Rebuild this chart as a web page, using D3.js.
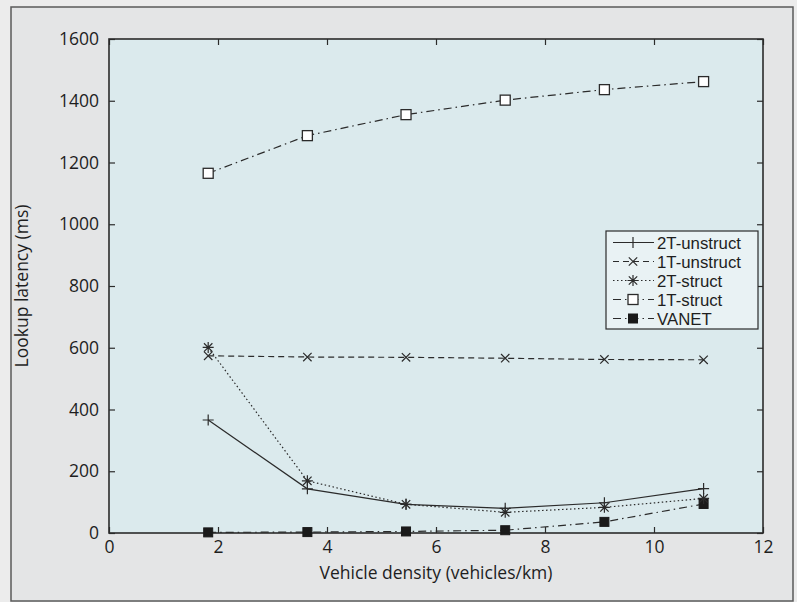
<!DOCTYPE html>
<html><head><meta charset="utf-8">
<script src="https://cdn.jsdelivr.net/npm/d3@7"></script>
<style>
html,body{margin:0;padding:0;background:#ececec;}
svg{display:block;font-family:"Open Sans",sans-serif;}
</style></head>
<body>
<svg id="chart" width="797" height="602"></svg>
<script>
// ---- data ----
const density = [1.82, 3.64, 5.45, 7.27, 9.09, 10.91];
const unstruct2T = [366, 143, 93, 80, 98, 144];
const unstruct1T = [574, 570, 569, 566, 562, 561];
const struct2T = [601, 169, 93, 67, 83, 112];
const struct1T = [1165, 1287, 1355, 1402, 1436, 1462];
const vanet = [2, 3, 5, 9, 36, 94];
const seriesNames = ["2T-unstruct", "1T-unstruct", "2T-struct", "1T-struct", "VANET"];
const xTicks = [0, 2, 4, 6, 8, 10, 12];
const yTicks = [0, 200, 400, 600, 800, 1000, 1200, 1400, 1600];
const xLabel = "Vehicle density (vehicles/km)";
const yLabel = "Lookup latency (ms)";

const series = [
  {name: seriesNames[0], values: unstruct2T, dash: null, marker: "plus"},
  {name: seriesNames[1], values: unstruct1T, dash: "6,4", marker: "x"},
  {name: seriesNames[2], values: struct2T, dash: "1.5,2.5", marker: "star"},
  {name: seriesNames[3], values: struct1T, dash: "8,4,1.5,4", marker: "square"},
  {name: seriesNames[4], values: vanet, dash: "8,4,1.5,4", marker: "filled"}
];

const svg = d3.select("#chart");
const ink = "#2b2b2b";
const txt = "#1e1e1e";

// outer panel
svg.append("rect").attr("x", 11).attr("y", 7).attr("width", 782).attr("height", 594)
  .attr("fill", "#e4e5e6").attr("stroke", "#5a5a5a").attr("stroke-width", 1.5);

const L = 109, R = 763, T = 39, B = 533;
const x = d3.scaleLinear().domain([0, 12]).range([L, R]);
const y = d3.scaleLinear().domain([0, 1600]).range([B, T]);

svg.append("rect").attr("x", L).attr("y", T).attr("width", R - L).attr("height", B - T)
  .attr("fill", "#dbeaed");

// axes
const fs = 17.5;
const fmt = d3.format("d");
const gx = svg.append("g").attr("transform", `translate(0,${B})`)
  .call(d3.axisBottom(x).tickValues(xTicks).tickFormat(fmt).tickSizeInner(-6).tickSizeOuter(0).tickPadding(8));
const gxt = svg.append("g").attr("transform", `translate(0,${T})`)
  .call(d3.axisTop(x).tickValues(xTicks).tickSizeInner(-6).tickSizeOuter(0).tickFormat(""));
const gy = svg.append("g").attr("transform", `translate(${L},0)`)
  .call(d3.axisLeft(y).tickValues(yTicks).tickFormat(fmt).tickSizeInner(-6).tickSizeOuter(0).tickPadding(10));
const gyr = svg.append("g").attr("transform", `translate(${R},0)`)
  .call(d3.axisRight(y).tickValues(yTicks).tickSizeInner(-6).tickSizeOuter(0).tickFormat(""));
[gx, gxt, gy, gyr].forEach(g => {
  g.select(".domain").remove();
  g.selectAll(".tick line").attr("stroke", ink).attr("stroke-width", 1.2);
  g.selectAll(".tick text").attr("fill", txt).attr("font-size", fs).attr("font-family", "'Open Sans',sans-serif");
});
gx.selectAll(".tick text").attr("dy", "0.71em");

// frame
svg.append("rect").attr("x", L).attr("y", T).attr("width", R - L).attr("height", B - T)
  .attr("fill", "none").attr("stroke", ink).attr("stroke-width", 1.6);

// labels
svg.append("text").attr("x", (L + R) / 2).attr("y", 579).attr("text-anchor", "middle")
  .attr("font-size", 17.5).attr("fill", txt).text(xLabel);
svg.append("text").attr("transform", `translate(28,${(T + B) / 2}) rotate(-90)`)
  .attr("text-anchor", "middle").attr("font-size", 17.5).attr("fill", txt).text(yLabel);

// marker drawer
function drawMarker(g, type, cx, cy) {
  const s = 5.5;
  if (type === "plus") {
    g.append("path").attr("d", `M${cx - s},${cy}H${cx + s}M${cx},${cy - s}V${cy + s}`)
      .attr("stroke", ink).attr("stroke-width", 1.2).attr("fill", "none");
  } else if (type === "x") {
    const k = 4.2;
    g.append("path").attr("d", `M${cx - k},${cy - k}L${cx + k},${cy + k}M${cx - k},${cy + k}L${cx + k},${cy - k}`)
      .attr("stroke", ink).attr("stroke-width", 1.2).attr("fill", "none");
  } else if (type === "star") {
    const k = 4.2;
    g.append("path").attr("d", `M${cx - s},${cy}H${cx + s}M${cx},${cy - s}V${cy + s}M${cx - k},${cy - k}L${cx + k},${cy + k}M${cx - k},${cy + k}L${cx + k},${cy - k}`)
      .attr("stroke", ink).attr("stroke-width", 1.2).attr("fill", "none");
  } else if (type === "square") {
    g.append("rect").attr("x", cx - 5).attr("y", cy - 5).attr("width", 10).attr("height", 10)
      .attr("fill", "#fff").attr("stroke", ink).attr("stroke-width", 1.3);
  } else if (type === "filled") {
    g.append("rect").attr("x", cx - 4.5).attr("y", cy - 4.5).attr("width", 9).attr("height", 9)
      .attr("fill", "#1a1a1a").attr("stroke", "#1a1a1a").attr("stroke-width", 1);
  }
}

const line = d3.line().x(d => x(d[0])).y(d => y(d[1]));
const plot = svg.append("g");
series.slice().reverse().forEach(s => {
  const pts = density.map((d, i) => [d, s.values[i]]);
  plot.append("path").attr("d", line(pts)).attr("fill", "none").attr("stroke", ink)
    .attr("stroke-width", 1.2).attr("stroke-dasharray", s.dash);
  const mg = plot.append("g");
  pts.forEach(p => drawMarker(mg, s.marker, x(p[0]), y(p[1])));
});

// legend
const lg = svg.append("g");
lg.append("rect").attr("x", 606).attr("y", 231).attr("width", 152).attr("height", 98)
  .attr("fill", "#e9f2f4").attr("stroke", ink).attr("stroke-width", 1.2);
series.forEach((s, i) => {
  const ly = 242.5 + i * 19;
  lg.append("line").attr("x1", 613).attr("x2", 654).attr("y1", ly).attr("y2", ly)
    .attr("stroke", ink).attr("stroke-width", 1.2).attr("stroke-dasharray", s.dash);
  drawMarker(lg, s.marker, 633, ly);
  lg.append("text").attr("x", 657).attr("y", ly).attr("dy", "0.36em")
    .attr("font-family", "'Liberation Sans',Arial,sans-serif")
    .attr("font-size", 16.8).attr("fill", txt).text(s.name);
});
</script>
</body></html>
